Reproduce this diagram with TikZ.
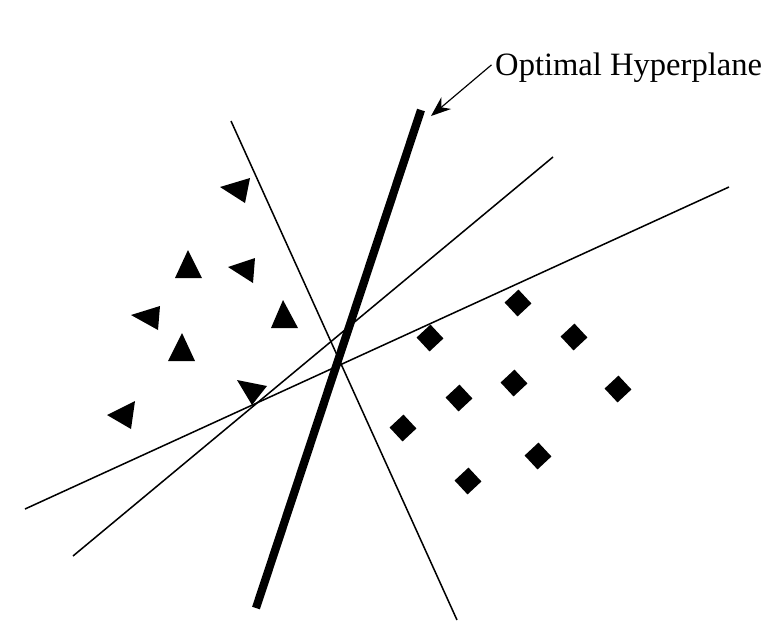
\documentclass[tikz,border=0pt]{standalone}
\usepackage{fontspec}
\setmainfont{Liberation Serif}
\usetikzlibrary{arrows.meta,positioning}

\begin{document}
\begin{tikzpicture}[x=0.03cm, y=-0.03cm,
    thin line/.style={line width=1.3pt, black},
    opt line/.style={line width=7pt, black},
    dia/.style={rectangle, fill=black, inner sep=0pt, minimum size=0.57cm, rotate=43}]
  \useasboundingbox (0,0) rectangle (779,633);
  % separating lines
  \draw[thin line] (231,121) -- (457,620);
  \draw[thin line] (553,157) -- (73,556);
  \draw[thin line] (729,187) -- (25,509);
  \coordinate (top) at (421,110);
  \coordinate (bot) at (256,608);
  \draw[opt line] (top) -- (bot);
  % class one: triangles
  \foreach \ax/\ay/\bx/\by/\cx/\cy in {
      220/187/250/178/245/203,
      188/250/175/278/202/278,
      228/267/255/258/253/283,
      131/315/160/306/158/330,
      283/300/271/328/298/328,
      182/333/168/361/195/361,
      237/380/267/386/252/405,
      107/415/135/401/131/429}
    \fill[black] (\ax,\ay) -- (\bx,\by) -- (\cx,\cy) -- cycle;
  % class two: diamonds
  \node[dia] (d1) at (518,303) {};
  \node[dia] (d2) at (430,338) {};
  \node[dia] (d3) at (574,337) {};
  \node[dia] (d4) at (514,383) {};
  \node[dia] (d5) at (459,398) {};
  \node[dia] (d6) at (618,389) {};
  \node[dia] (d7) at (403,428) {};
  \node[dia] (d8) at (538,456) {};
  \node[dia] (d9) at (468,481) {};
  % label
  \node[anchor=base west, inner sep=0pt, font=\fontsize{27.8}{33}\selectfont] (lbl) at (495,75) {Optimal Hyperplane};
  \coordinate (tipend) at (431,116);
  \draw[line width=1pt, -{Stealth[length=17pt, width=13pt]}] ([xshift=-3pt, yshift=2pt]lbl.west) -- (tipend);
\end{tikzpicture}
\end{document}
